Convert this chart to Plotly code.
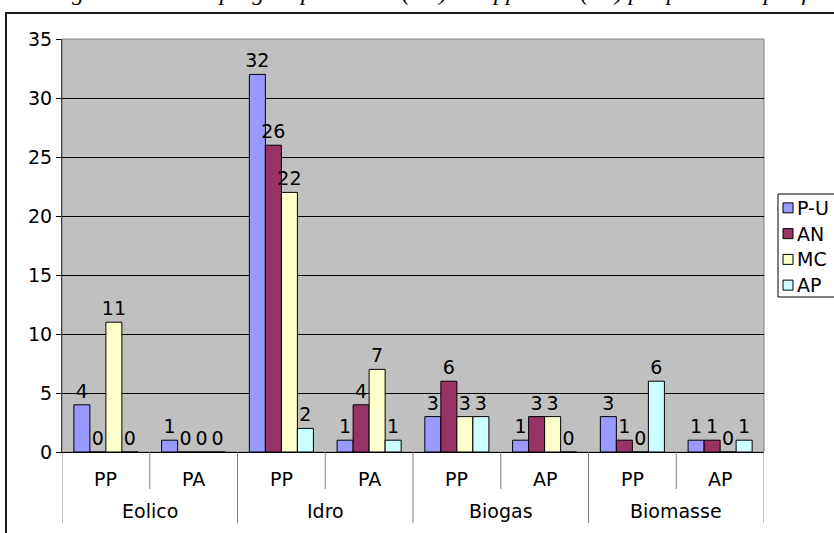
import plotly.graph_objects as go

# Sources (outer level) and project status (inner level) per category
groups = ["Eolico", "Eolico", "Idro", "Idro", "Biogas", "Biogas", "Biomasse", "Biomasse"]
subcats = ["PP", "PA", "PP", "PA", "PP", "AP", "PP", "AP"]

# Number of projects per province
pu = [4, 1, 32, 1, 3, 1, 3, 1]
an = [0, 0, 26, 4, 6, 3, 1, 1]
mc = [11, 0, 22, 7, 3, 3, 0, 0]
ap = [0, 0, 2, 1, 3, 0, 6, 1]

series_names = ["P-U", "AN", "MC", "AP"]
series_values = [pu, an, mc, ap]
series_colors = ["#9999FF", "#993366", "#FFFFCC", "#CCFFFF"]

y_ticks = [0, 5, 10, 15, 20, 25, 30, 35]

title_text = ("Figura 4 - Fonti di energia: numero di progetti presentati (PP) "
              "ed approvati (PA) per provincia per fonte.")

FONT = "DejaVu Sans, Verdana, sans-serif"
FS = 19

# plot area in pixels (for converting frame/legend positions to paper units)
W, H = 834, 533
L, R, T, B = 62, 70, 39, 81
PW, PH = W - L - R, H - T - B


def px_x(p):
    return (p - L) / PW


def px_y(p):
    return (H - B - p) / PH


keys = [f"{g} / {s}" for g, s in zip(groups, subcats)]

fig = go.Figure()
for name, vals, col in zip(series_names, series_values, series_colors):
    fig.add_trace(go.Bar(
        x=keys, y=vals, name=name, showlegend=False,
        marker=dict(color=col, line=dict(color="black", width=1)),
        text=[str(v) for v in vals], textposition="outside",
        textfont=dict(family=FONT, size=FS, color="black"),
        cliponaxis=False, constraintext="none",
    ))

shapes = []
# plot area border
shapes.append(dict(type="rect", xref="paper", yref="paper", x0=0, x1=1, y0=0, y1=1,
                   line=dict(color="#808080", width=1), layer="below"))
# outer frame of the chart object
shapes.append(dict(type="rect", xref="paper", yref="paper",
                   x0=px_x(6), x1=px_x(900), y0=px_y(600), y1=px_y(13),
                   line=dict(color="#1a1a1a", width=2)))
# category dividers below the axis
n = len(keys)
for i in range(n + 1):
    xb = i - 0.5
    is_group_edge = (i == 0 or i == n or groups[i] != groups[i - 1])
    shapes.append(dict(type="line", xref="x", yref="paper", x0=xb, x1=xb,
                       y0=0, y1=px_y(523) if is_group_edge else px_y(489),
                       line=dict(color="#808080", width=1)))

annotations = []
for i, s in enumerate(subcats):
    annotations.append(dict(x=i, y=px_y(479), xref="x", yref="paper", text=s,
                            showarrow=False, yanchor="middle",
                            font=dict(family=FONT, size=FS, color="black")))
seen = []
for g in groups:
    if g not in seen:
        seen.append(g)
for g in seen:
    idx = [i for i, gg in enumerate(groups) if gg == g]
    annotations.append(dict(x=(idx[0] + idx[-1]) / 2, y=px_y(511), xref="x", yref="paper",
                            text=g, showarrow=False, yanchor="middle",
                            font=dict(family=FONT, size=FS, color="black")))

# legend box, drawn at the right edge of the chart object
leg_left, leg_top, leg_bottom = 778, 194, 297
shapes.append(dict(type="rect", xref="paper", yref="paper",
                   x0=px_x(leg_left), x1=px_x(860), y0=px_y(leg_bottom), y1=px_y(leg_top),
                   line=dict(color="black", width=1), fillcolor="white", layer="above"))
row_h = (leg_bottom - leg_top) / len(series_names)
for k, (name, col) in enumerate(zip(series_names, series_colors)):
    cy = leg_top + row_h * (k + 0.5) + 1
    shapes.append(dict(type="rect", xref="paper", yref="paper",
                       x0=px_x(783), x1=px_x(793), y0=px_y(cy + 5), y1=px_y(cy - 5),
                       fillcolor=col, line=dict(color="black", width=1), layer="above"))
    annotations.append(dict(x=px_x(795), y=px_y(cy), xref="paper", yref="paper",
                            text=name, showarrow=False, xanchor="left", yanchor="middle",
                            font=dict(family=FONT, size=FS, color="black")))

# caption above the chart object (only its lower part falls inside the page)
annotations.append(dict(x=px_x(858), y=px_y(7), xref="paper", yref="paper", text=title_text,
                        showarrow=False, xanchor="right", yanchor="bottom",
                        font=dict(family="Liberation Serif, Times New Roman, serif",
                                  size=24, color="black", style="italic")))

fig.update_layout(
    width=W, height=H,
    margin=dict(l=L, r=R, t=T, b=B),
    paper_bgcolor="white", plot_bgcolor="#C0C0C0",
    barmode="group", bargap=0.27, bargroupgap=0,
    font=dict(family=FONT, size=FS, color="black"),
    xaxis=dict(type="category", range=[-0.5, n - 0.5], showticklabels=False,
               showgrid=False, ticks="", showline=True, linecolor="black", linewidth=1),
    yaxis=dict(range=[0, 35], tickvals=y_ticks, showgrid=True, gridcolor="black",
               gridwidth=1, zeroline=False, ticks="outside", ticklen=5,
               tickcolor="black", showline=True, linecolor="#404040", linewidth=1,
               tickfont=dict(family=FONT, size=FS, color="black")),
    shapes=shapes, annotations=annotations,
    showlegend=False,
)

fig.write_html("out.html")
